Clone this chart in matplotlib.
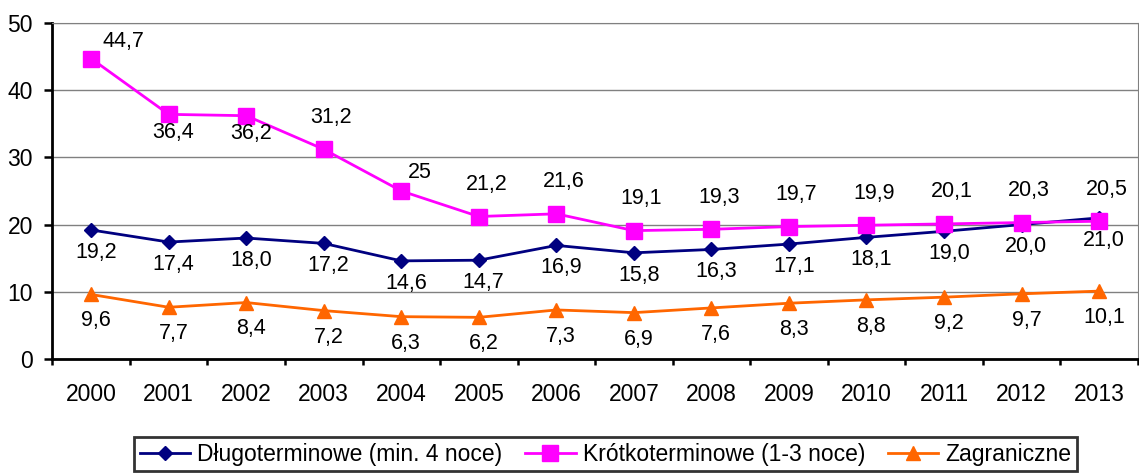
import matplotlib
matplotlib.use('Agg')
import matplotlib.pyplot as plt
import numpy as np

years = ['2000', '2001', '2002', '2003', '2004', '2005', '2006',
         '2007', '2008', '2009', '2010', '2011', '2012', '2013']
dlugo = [19.2, 17.4, 18.0, 17.2, 14.6, 14.7, 16.9, 15.8, 16.3, 17.1, 18.1, 19.0, 20.0, 21.0]
krotko = [44.7, 36.4, 36.2, 31.2, 25.0, 21.2, 21.6, 19.1, 19.3, 19.7, 19.9, 20.1, 20.3, 20.5]
zagr = [9.6, 7.7, 8.4, 7.2, 6.3, 6.2, 7.3, 6.9, 7.6, 8.3, 8.8, 9.2, 9.7, 10.1]

krotko_lbl = ['44,7', '36,4', '36,2', '31,2', '25', '21,2', '21,6',
              '19,1', '19,3', '19,7', '19,9', '20,1', '20,3', '20,5']

def fmt(v):
    return f"{v:.1f}".replace('.', ',')

plt.rcParams['font.family'] = ['Liberation Sans', 'DejaVu Sans']

fig = plt.figure(figsize=(11.39, 4.74), dpi=100)
ax = fig.add_axes([0.046, 0.2426, 0.953, 0.709])
x = np.arange(len(years))

ax.plot(x, dlugo, color='#000080', lw=2, marker='D', ms=7,
        label='Długoterminowe (min. 4 noce)', zorder=3)
ax.plot(x, krotko, color='#FF00FF', lw=2, marker='s', ms=11.5,
        label='Krótkoterminowe (1-3 noce)', zorder=3)
ax.plot(x, zagr, color='#FF6600', lw=2, marker='^', ms=10.5,
        label='Zagraniczne', zorder=3)

fs = 15.5
dx = 3.5
for i in x:
    ax.annotate(fmt(dlugo[i]), (i, dlugo[i]), xytext=(dx, -16), textcoords='offset points',
                ha='center', va='center', fontsize=fs)
    ax.annotate(fmt(zagr[i]), (i, zagr[i]), xytext=(dx, -19), textcoords='offset points',
                ha='center', va='center', fontsize=fs)
    if i == 0:
        off = (23, 12.5)
    elif i in (1, 2):
        off = (dx, -13)
    elif i == 4:
        off = (13, 13.5)
    else:
        off = (dx + 2, 23)
    ax.annotate(krotko_lbl[i], (i, krotko[i]), xytext=off, textcoords='offset points',
                ha='center', va='center', fontsize=fs)

ax.set_xlim(-0.5, len(years) - 0.5)
ax.set_ylim(0, 50)
ax.set_yticks([0, 10, 20, 30, 40, 50])
ax.set_xticks(x)
ax.set_xticklabels(years)
ax.set_xticks(np.arange(-0.5, len(years), 1), minor=True)
ax.tick_params(axis='x', which='major', length=0, pad=17, labelsize=16.5)
ax.tick_params(axis='x', which='minor', length=4.5, width=1.8, direction='out')
ax.tick_params(axis='y', length=5.5, width=1.8, pad=8.5, labelsize=16.5)
ax.grid(axis='y', color='#808080', lw=1)
ax.set_axisbelow(True)
for s in ['left', 'bottom']:
    ax.spines[s].set_linewidth(2)
ax.spines['top'].set_color('#808080')
ax.spines['right'].set_color('#808080')

leg = fig.legend(loc='upper center', bbox_to_anchor=(0.5316, 0.078), ncol=3,
                 fontsize=16.5, frameon=True, fancybox=False, edgecolor='black',
                 handlelength=2.2, columnspacing=1.0, handletextpad=0.3,
                 borderpad=0.25, borderaxespad=0)
leg.get_frame().set_linewidth(2)

fig.savefig('out.png', dpi=100, facecolor='white')
